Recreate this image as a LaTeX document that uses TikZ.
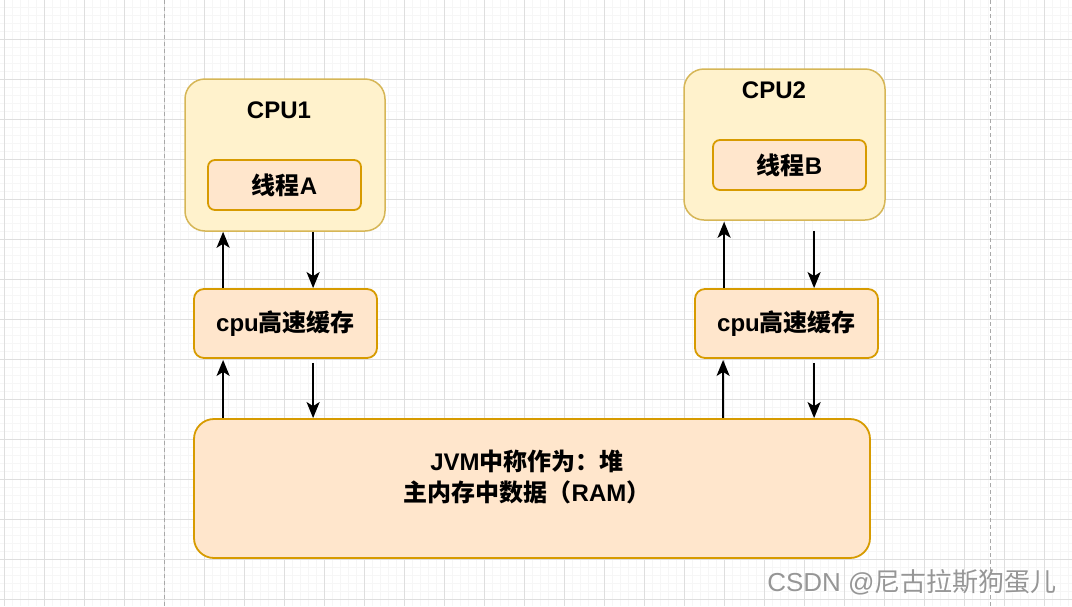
\documentclass[tikz,border=0pt]{standalone}
\usepackage{fontspec}
\setmainfont{Liberation Sans}
\newfontfamily\cjk{Noto Sans CJK SC}
\usetikzlibrary{arrows.meta}
\definecolor{gridmajor}{HTML}{DEDEDE}
\definecolor{gridminor}{HTML}{F6F6F6}
\definecolor{outerfill}{HTML}{FFF2CC}
\definecolor{outerline}{HTML}{D6B656}
\definecolor{innerfill}{HTML}{FFE6CC}
\definecolor{innerline}{HTML}{D79B00}
\definecolor{wm}{HTML}{969696}
\definecolor{dashc}{HTML}{A8A8A8}
\tikzset{
  cpubox/.style={draw=outerline, fill=outerfill, line width=1.5pt, rounded corners=20pt, inner sep=0pt},
  thbox/.style={draw=innerline, fill=innerfill, line width=1.8pt, rounded corners=7pt, inner sep=0pt,
     font=\fontsize{24}{28}\selectfont\bfseries},
  cachebox/.style={draw=innerline, fill=innerfill, line width=1.8pt, rounded corners=10pt, inner sep=0pt,
     font=\fontsize{24}{28}\selectfont\bfseries},
  jvmbox/.style={draw=innerline, fill=innerfill, line width=1.8pt, rounded corners=20pt, inner sep=0pt},
  lbl/.style={font=\fontsize{24}{28}\selectfont\bfseries, inner sep=0pt},
  arr/.style={line width=2pt, -{Stealth[length=16pt,width=13pt,inset=4pt]}},
}
\begin{document}
\begin{tikzpicture}[x=1pt,y=-1pt]
\useasboundingbox (0,0) rectangle (1072,606);
\fill[white] (0,0) rectangle (1072,606);
% grid
\foreach \i in {0,...,134} {
  \draw[gridminor, line width=0.6pt] ({4+8*\i},0) -- ({4+8*\i},606);
}
\foreach \i in {0,...,76} {
  \draw[gridminor, line width=0.6pt] (0,{-1+8*\i}) -- (1072,{-1+8*\i});
}
\foreach \i in {0,...,26} {
  \draw[gridmajor, line width=0.9pt] ({4+40*\i},0) -- ({4+40*\i},606);
}
\foreach \i in {0,...,15} {
  \draw[gridmajor, line width=0.9pt] (0,{-1+40*\i}) -- (1072,{-1+40*\i});
}
\draw[dashc, line width=0.9pt, dash pattern=on 4pt off 3pt] (164.5,0) -- (164.5,606);
\draw[dashc, line width=0.9pt, dash pattern=on 4pt off 3pt] (990,0) -- (990,606);

% boxes
\node[cpubox, minimum width=200pt, minimum height=152pt] (cpu1) at (285,155) {};
\node[lbl] (cpu1t) at (279,110) {CPU1};
\node[thbox, minimum width=153pt, minimum height=50pt] (tha) at (284.5,185) {{\cjk 线程}A};

\node[cpubox, minimum width=201pt, minimum height=151pt] (cpu2) at (784.5,144.5) {};
\node[lbl] (cpu2t) at (774,90) {CPU2};
\node[thbox, minimum width=153pt, minimum height=50pt] (thb) at (789.5,165) {{\cjk 线程}B};

\node[cachebox, minimum width=183pt, minimum height=69pt] (c1) at (285.5,323.5) {cpu{\cjk 高速缓存}};
\node[cachebox, minimum width=183pt, minimum height=69pt] (c2) at (786.5,323.5) {cpu{\cjk 高速缓存}};

\node[jvmbox, minimum width=676pt, minimum height=139pt] (jvm) at (532,488.5) {};
\node[lbl, align=center, font=\fontsize{24}{31}\selectfont\bfseries] (jvmt) at (527,477)
  {JVM{\cjk 中称作为：堆}\\{\cjk 主内存中数据（}RAM{\cjk ）}};

% arrows left
\draw[arr] ([xshift=30pt]c1.north west) -- ([xshift=30pt]c1.north west |- cpu1.south);
\draw[arr] ([xshift=120pt]c1.north west |- cpu1.south) -- ([xshift=120pt]c1.north west);
\draw[arr, shorten >=1pt] ([xshift=30pt]c1.south west |- jvm.north) -- ([xshift=30pt]c1.south west);
\draw[arr, shorten <=4pt] ([xshift=120pt]c1.south west) -- ([xshift=120pt]c1.south west |- jvm.north);
% arrows right
\draw[arr, shorten >=1pt] ([xshift=30pt]c2.north west) -- ([xshift=30pt]c2.north west |- cpu2.south);
\draw[arr, shorten <=10pt] ([xshift=120pt]c2.north west |- cpu2.south) -- ([xshift=120pt]c2.north west);
\draw[arr, shorten >=1pt] ([xshift=29pt]c2.south west |- jvm.north) -- ([xshift=29pt]c2.south west);
\draw[arr, shorten <=4pt] ([xshift=120pt]c2.south west) -- ([xshift=120pt]c2.south west |- jvm.north);

% watermark
\node[inner sep=0pt, text=white, font=\fontsize{26}{28}\selectfont] at (913,583) {CSDN @{\cjk 尼古拉斯狗蛋儿}};
\node[inner sep=0pt, text=wm, font=\fontsize{26}{28}\selectfont] (wmk) at (912,582) {CSDN @{\cjk 尼古拉斯狗蛋儿}};
\end{tikzpicture}
\end{document}
